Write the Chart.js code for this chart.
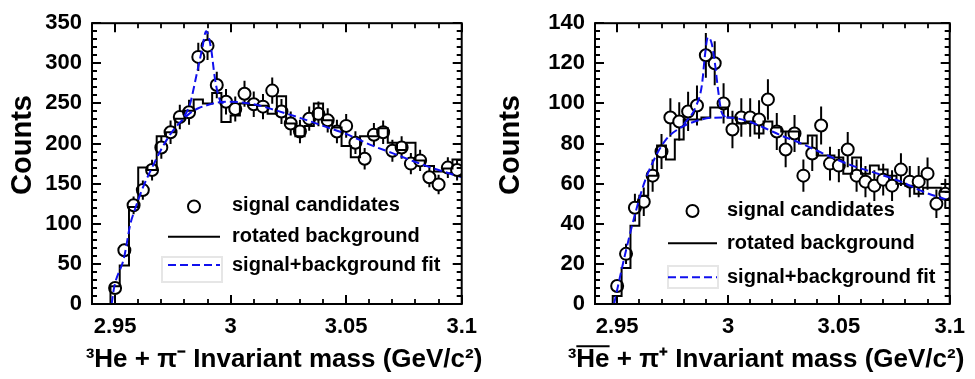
<!DOCTYPE html>
<html><head><meta charset="utf-8">
<script src="https://cdn.jsdelivr.net/npm/chart.js@4.4.1/dist/chart.umd.min.js"></script>
<style>
html,body{margin:0;padding:0;background:#fff;overflow:hidden}
#wrap{position:relative;width:975px;height:379px}
.c{position:absolute;top:0;height:379px}
</style></head><body>
<div id="wrap">
<div class="c" style="left:0;width:487px"><canvas id="left"></canvas></div>
<div class="c" style="left:487px;width:488px"><canvas id="right"></canvas></div>
</div>
<script>
// ---------- data ----------
const massBins = [2.950,2.954,2.958,2.962,2.966,2.970,2.974,2.978,2.982,2.986,
  2.990,2.994,2.998,3.002,3.006,3.010,3.014,3.018,3.022,3.026,
  3.030,3.034,3.038,3.042,3.046,3.050,3.054,3.058,3.062,3.066,
  3.070,3.074,3.078,3.082,3.086,3.090,3.094,3.098];
const binWidth = 0.004;

const xTickValues = [2.95, 3.0, 3.05, 3.1];
const xTickLabels = ['2.95', '3', '3.05', '3.1'];
const xMinorTicks = [2.96,2.97,2.98,2.99,3.01,3.02,3.03,3.04,3.06,3.07,3.08,3.09];

const leftYTicks = [0,50,100,150,200,250,300,350];
const leftYTickLabels = ['0','50','100','150','200','250','300','350'];
const leftYMinor = [10,20,30,40,60,70,80,90,110,120,130,140,160,170,180,190,210,220,230,240,260,270,280,290,310,320,330,340];
const rightYTicks = [0,20,40,60,80,100,120,140];
const rightYTickLabels = ['0','20','40','60','80','100','120','140'];
const rightYMinor = [4,8,12,16,24,28,32,36,44,48,52,56,64,68,72,76,84,88,92,96,104,108,112,116,124,128,132,136];

// 3He + pi-
const leftSignal = [20,67,123,142,167,195,214,233,239,308,322,273,252,243,262,249,246,266,240,225,
  215,231,237,229,215,222,201,181,211,214,191,195,175,179,158,149,170,167];
const leftBackground = [22,48,121,170,167,209,214,231,241,255,250,263,227,235,250,248,247,237,259,225,
  209,222,250,229,220,197,183,209,209,219,201,192,201,179,172,165,169,180];
const leftFitMass = [2.9485,2.9496,2.9538,2.9567,2.9580,2.9620,2.9660,2.9700,2.9740,2.9780,2.9820,2.9860,
  2.9900,2.9940,3.0000,3.0100,3.0200,3.0300,3.0400,3.0500,3.0600,3.0700,3.0800,3.0900,3.1000];
const leftFitCounts = [0,21,57,101,113,145,170,193,212,226,237,244,248,251,252,249,241,232,222,212,199,188,177,167,158];
const leftPeakMass = [2.9800,2.9824,2.9852,2.9876,2.9894,2.9916,2.9930,2.9944,2.9962,2.9985];
const leftPeakCounts = [234,249,285,317,340,317,285,263,251,252];

// anti-3He + pi+
const rightSignal = [9,25,48,51,64,76,93,91,96,99,124,120,100,87,93,93,92,102,86,77,
  85,64,75,89,70,69,77,64,61,59,62,59,67,61,61,65,50,55];
const rightBackground = [4,18,39,54,64,79,72,82,92,92,93,98,98,93,90,91,85,91,88,86,
  86,80,84,74,74,73,65,73,65,69,67,64,60,59,55,58,58,56];
const rightFitMass = [2.9486,2.9530,2.9574,2.9618,2.9662,2.9720,2.9780,2.9850,2.9920,3.0000,3.0080,3.0160,
  3.0240,3.0320,3.0440,3.0560,3.0660,3.0780,3.0880,3.1000];
const rightFitCounts = [0,22,42,59,71,82,87.5,91,92.8,93,91.5,88,84,80.5,74.5,69,65.5,61,56,51.5];
const rightPeakMass = [2.9800,2.9853,2.9882,2.9897,2.9909,2.9926,2.9941,2.9956,2.9970,2.9990];
const rightPeakCounts = [89.5,98,109,125,133,130,120,106,96,93];

const legendLabels = ['signal candidates', 'rotated background', 'signal+background fit'];
const yTitle = 'Counts';
const leftXTitle = '³He + π⁻ Invariant mass (GeV/c²)';
const rightXTitle = '³He + π⁺ Invariant mass (GeV/c²)';

// ---------- helpers ----------
const FONT = '"Liberation Sans", Arial, Helvetica, sans-serif';
Chart.defaults.font.family = FONT;
Chart.defaults.color = '#000';

function histPoints(vals) {
  const h = binWidth / 2;
  const pts = [{x: massBins[0] - h, y: 0}];
  massBins.forEach((m, i) => pts.push({x: m - h, y: vals[i]}));
  pts.push({x: massBins[massBins.length - 1] + h, y: vals[vals.length - 1]});
  return pts;
}
function xy(xs, ys) { return xs.map((x, i) => ({x, y: ys[i]})); }

const errorBars = {
  id: 'errorBars',
  beforeDatasetDraw(chart, args) {
    const ds = chart.data.datasets[args.index];
    if (!ds.isSignal) return;
    const {ctx, scales: {x, y}} = chart;
    ctx.save();
    ctx.strokeStyle = '#000';
    ctx.lineWidth = 2;
    ctx.beginPath();
    ds.data.forEach(p => {
      const e = Math.sqrt(p.y); // Poisson uncertainty of a count
      const px = x.getPixelForValue(p.x);
      ctx.moveTo(px, y.getPixelForValue(p.y - e));
      ctx.lineTo(px, y.getPixelForValue(p.y + e));
    });
    ctx.stroke();
    ctx.restore();
  }
};

const frameTicks = {
  id: 'frameTicks',
  afterDraw(chart, args, o) {
    const {ctx, chartArea: a, scales: {x, y}} = chart;
    ctx.save();
    ctx.strokeStyle = '#000';
    const draw = (vals, len, horiz) => {
      ctx.beginPath();
      vals.forEach(v => {
        if (horiz) {
          const px = Math.round(x.getPixelForValue(v));
          ctx.moveTo(px, a.bottom); ctx.lineTo(px, a.bottom - len);
          ctx.moveTo(px, a.top); ctx.lineTo(px, a.top + len);
        } else {
          const py = Math.round(y.getPixelForValue(v));
          ctx.moveTo(a.left, py); ctx.lineTo(a.left + len, py);
          ctx.moveTo(a.right, py); ctx.lineTo(a.right - len, py);
        }
      });
      ctx.stroke();
    };
    ctx.lineWidth = 2;
    draw(xTickValues, 9, true);
    draw(o.yMajor, 9, false);
    ctx.lineWidth = 1.8;
    draw(xMinorTicks, 5, true);
    draw(o.yMinor, 5, false);
    ctx.lineWidth = 2;
    ctx.strokeRect(a.left, a.top, a.right - a.left, a.bottom - a.top);
    ctx.restore();
  }
};

const axisTitles = {
  id: 'axisTitles',
  afterDraw(chart, args, o) {
    const {ctx} = chart;
    ctx.save();
    ctx.fillStyle = '#000';
    ctx.textAlign = 'center';
    ctx.textBaseline = 'middle';
    // x title
    ctx.font = 'bold ' + o.xSize + 'px ' + FONT;
    ctx.fillText(o.xText, o.xCx, o.xCy);
    if (o.bar) {
      const full = ctx.measureText(o.xText).width;
      const s = o.xCx - full / 2 + ctx.measureText('³').width;
      const w = ctx.measureText('He').width;
      const asc = ctx.measureText('H').actualBoundingBoxAscent;
      ctx.strokeStyle = '#000'; ctx.lineWidth = 2;
      ctx.beginPath();
      ctx.moveTo(s, o.xCy - asc - 3); ctx.lineTo(s + w, o.xCy - asc - 3);
      ctx.stroke();
    }
    // y title
    ctx.font = 'bold 29px ' + FONT;
    ctx.translate(o.yCx, o.yCy);
    ctx.rotate(-Math.PI / 2);
    ctx.fillText(yTitle, 0, 0);
    ctx.restore();
  }
};

const legendBox = {
  id: 'legendBox',
  afterDraw(chart, args, o) {
    const {ctx} = chart;
    ctx.save();
    ctx.font = 'bold 20px ' + FONT;
    ctx.fillStyle = '#000';
    ctx.textBaseline = 'middle';
    ctx.textAlign = 'left';
    const mid = (o.x0 + o.x1) / 2;
    ctx.lineWidth = 2; ctx.strokeStyle = '#000';
    ctx.beginPath(); ctx.arc(mid, o.rows[0], 6, 0, Math.PI * 2);
    ctx.fillStyle = '#fff'; ctx.fill(); ctx.stroke();
    ctx.fillStyle = '#000';
    ctx.fillText(legendLabels[0], o.tx, o.rows[0] - 1);
    ctx.beginPath(); ctx.moveTo(o.x0, o.rows[1]); ctx.lineTo(o.x1, o.rows[1]); ctx.stroke();
    ctx.fillText(legendLabels[1], o.tx, o.rows[1]);
    ctx.strokeStyle = '#e6e6e6'; ctx.lineWidth = 2;
    ctx.strokeRect(o.box[0], o.box[1], o.box[2], o.box[3]);
    ctx.strokeStyle = '#1010ee'; ctx.setLineDash([8, 4]);
    ctx.beginPath(); ctx.moveTo(o.x0, o.rows[2]); ctx.lineTo(o.x1, o.rows[2]); ctx.stroke();
    ctx.setLineDash([]);
    ctx.fillText(legendLabels[2], o.tx, o.rows[2]);
    ctx.restore();
  }
};

function makeChart(id, cfg) {
  const blue = '#1010ee';
  return new Chart(document.getElementById(id), {
    type: 'line',
    data: {
      datasets: [
        {label: legendLabels[0], isSignal: true, data: xy(massBins, cfg.signal), showLine: false,
         pointRadius: 6, pointBorderWidth: 2, pointBorderColor: '#000', pointBackgroundColor: '#fff', order: 3},
        {label: legendLabels[1], data: histPoints(cfg.background), stepped: 'before', borderColor: '#000',
         borderWidth: 2, pointRadius: 0, fill: false, order: 2},
        {label: legendLabels[2], data: xy(cfg.fitMass, cfg.fitCounts), borderColor: blue, borderDash: [8, 4],
         borderWidth: 2, pointRadius: 0, fill: false, cubicInterpolationMode: 'monotone', order: 1},
        {label: legendLabels[2] + ' (peak)', data: xy(cfg.peakMass, cfg.peakCounts), borderColor: blue, borderDash: [8, 4],
         borderWidth: 2, pointRadius: 0, fill: false, cubicInterpolationMode: 'monotone', order: 0}
      ]
    },
    options: {
      responsive: true, maintainAspectRatio: false, animation: false,
      layout: {padding: {top: 13, right: cfg.padRight, left: 0, bottom: 0}},
      plugins: {
        legend: {display: false}, tooltip: {enabled: false},
        frameTicks: {yMajor: cfg.yTicks, yMinor: cfg.yMinor},
        legendBox: cfg.legend,
        axisTitles: cfg.titles
      },
      scales: {
        x: {
          type: 'linear', min: 2.94, max: 3.1,
          grid: {display: false, drawTicks: false}, border: {display: false},
          afterBuildTicks: s => { s.ticks = xTickValues.map(v => ({value: v})); },
          afterFit: s => { s.height = 75; },
          ticks: {autoSkip: false, maxRotation: 0, padding: 10,
                  font: {size: 22, weight: 'bold'}, color: '#000',
                  callback: (v, i) => xTickLabels[i]},
          title: {display: false}
        },
        y: {
          type: 'linear', min: 0, max: cfg.yMax,
          grid: {display: false, drawTicks: false}, border: {display: false},
          afterBuildTicks: s => { s.ticks = cfg.yTicks.map(v => ({value: v})); },
          afterFit: s => { s.width = cfg.yWidth; },
          ticks: {autoSkip: false, padding: 10, font: {size: 22, weight: 'bold'}, color: '#000',
                  callback: (v, i) => cfg.yLabels[i]},
          title: {display: false}
        }
      }
    },
    plugins: [errorBars, frameTicks, legendBox, axisTitles]
  });
}

makeChart('left', {
  signal: leftSignal, background: leftBackground,
  fitMass: leftFitMass, fitCounts: leftFitCounts, peakMass: leftPeakMass, peakCounts: leftPeakCounts,
  yMax: 350, yTicks: leftYTicks, yLabels: leftYTickLabels, yMinor: leftYMinor,
  yWidth: 92, padRight: 17,
  titles: {xText: leftXTitle, xSize: 26, xCx: 284, xCy: 360, bar: false, yCx: 23, yCy: 145},
  legend: {x0: 168, x1: 220, tx: 232, rows: [206.5, 236.7, 265], box: [162, 257, 60, 25]}
});
makeChart('right', {
  signal: rightSignal, background: rightBackground,
  fitMass: rightFitMass, fitCounts: rightFitCounts, peakMass: rightPeakMass, peakCounts: rightPeakCounts,
  yMax: 140, yTicks: rightYTicks, yLabels: rightYTickLabels, yMinor: rightYMinor,
  yWidth: 108, padRight: 18,
  titles: {xText: rightXTitle, xSize: 26, xCx: 279, xCy: 360, bar: true, yCx: 24, yCy: 145},
  legend: {x0: 181, x1: 230, tx: 240, rows: [211, 243.3, 277.3], box: [181, 266, 50, 22]}
});
</script>
</body></html>
